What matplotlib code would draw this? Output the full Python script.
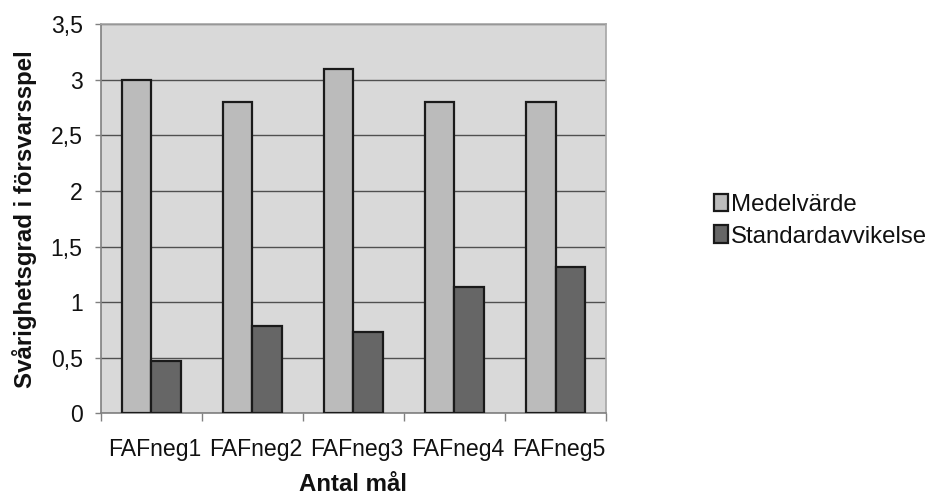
import matplotlib.pyplot as plt
import matplotlib.transforms as mtransforms
import numpy as np

plt.rcParams['font.family'] = ['Liberation Sans', 'DejaVu Sans']

# Data
categories = ['FAFneg1', 'FAFneg2', 'FAFneg3', 'FAFneg4', 'FAFneg5']
medelvarde = [3.0, 2.8, 3.1, 2.8, 2.8]
standardavvikelse = [0.47, 0.79, 0.73, 1.14, 1.32]
y_ticks = [0, 0.5, 1, 1.5, 2, 2.5, 3, 3.5]
y_tick_labels = ['0', '0,5', '1', '1,5', '2', '2,5', '3', '3,5']

tick_fs = 16.6
fs = 17.3

fig = plt.figure(figsize=(9.31, 4.99), dpi=100)
ax = fig.add_axes([0.1082, 0.1717, 0.5428, 0.7796])
ax.set_facecolor('#d9d9d9')

x = np.arange(len(categories))
w = 0.29
ax.bar(x - w / 2, medelvarde, w, color='#bbbbbb', edgecolor='#1a1a1a',
       linewidth=1.6, label='Medelvärde', zorder=3)
ax.bar(x + w / 2, standardavvikelse, w, color='#666666', edgecolor='#1a1a1a',
       linewidth=1.6, label='Standardavvikelse', zorder=3)

ax.set_xlim(-0.5, len(categories) - 0.5)
ax.set_ylim(0, 3.5)

# y axis
ax.set_yticks(y_ticks)
ax.set_yticklabels(y_tick_labels)
ax.tick_params(axis='y', direction='out', length=4, width=1, color='#808080',
               pad=9, labelsize=tick_fs, labelcolor='#111111')
ax.yaxis.grid(True, color='#505050', linewidth=1, zorder=1)

# x axis: tick marks between categories, labels at centres
ax.set_xticks(np.arange(-0.5, len(categories)), minor=False)
ax.set_xticklabels([])
ax.set_xticks(x, minor=True)
ax.set_xticklabels(categories, minor=True)
ax.tick_params(axis='x', which='major', direction='out', length=6, width=1,
               color='#808080')
ax.tick_params(axis='x', which='minor', length=0, pad=18, labelsize=tick_fs,
               labelcolor='#111111')
shift = mtransforms.ScaledTranslation(3 / 100, 0, fig.dpi_scale_trans)
for lbl in ax.get_xticklabels(minor=True):
    lbl.set_transform(lbl.get_transform() + shift)

for side in ['left', 'bottom']:
    ax.spines[side].set_color('#808080')
    ax.spines[side].set_linewidth(1.2)
for side in ['top', 'right']:
    ax.spines[side].set_color('#a6a6a6')
    ax.spines[side].set_linewidth(1.2)

fig.text(0.026, 0.56, 'Svårighetsgrad i försvarsspel', rotation=90,
         ha='center', va='center', fontsize=fs, fontweight='bold',
         color='#111111')
fig.text(0.379, 0.029, 'Antal mål', ha='center', va='center',
         fontsize=fs, fontweight='bold', color='#111111')

leg = fig.legend(loc='center left', bbox_to_anchor=(0.757, 0.558),
                 frameon=False, fontsize=fs, handlelength=0.55,
                 handleheight=0.75, handletextpad=0.15, labelspacing=0.4,
                 borderaxespad=0)
for t in leg.get_texts():
    t.set_color('#111111')

fig.savefig('out.png', dpi=100)
